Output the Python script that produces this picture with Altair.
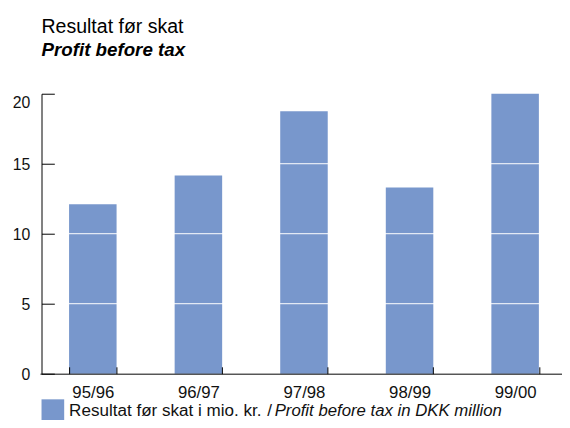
import altair as alt
import pandas as pd

categories = ["95/96", "96/97", "97/98", "98/99", "99/00"]
values = [12.1, 14.15, 18.75, 13.3, 20.0]
y_ticks = [0, 5, 10, 15, 20]
grid_values = [5, 10, 15]

BAR = "#7897cc"
FONT = "Liberation Sans"

df = pd.DataFrame({"periode": categories, "resultat": values})
grid_df = pd.DataFrame({"g": grid_values})
one = pd.DataFrame({"a": [0]})

x_enc = alt.X(
    "periode:N",
    sort=categories,
    title=None,
    scale=alt.Scale(range=[-1.5, 534], paddingInner=0.55, paddingOuter=0.275),
    axis=alt.Axis(
        labelAngle=0, labelFontSize=17, labelFont=FONT, labelColor="#111",
        tickBand="extent", tickSize=alt.ExprRef("-7"), tickColor="black",
        domainColor="black", labelPadding=18, zindex=1,
    ),
)
y_scale = alt.Scale(domain=[0, 20])

bars = alt.Chart(df).mark_bar(color=BAR).encode(
    x=x_enc,
    y=alt.Y(
        "resultat:Q", title=None, scale=y_scale,
        axis=alt.Axis(
            values=y_ticks, grid=False, labelFontSize=16, labelFont=FONT,
            labelColor="#111", tickSize=alt.ExprRef("-13"), tickColor="black",
            domainColor="black", labelPadding=25, zindex=1, labelOffset=1,
            labelBaseline=alt.ExprRef("datum.value == 20 ? 'top' : 'middle'"),
        ),
    ),
)

grid = alt.Chart(grid_df).mark_rule(color="white", strokeWidth=1).encode(
    y=alt.Y("g:Q", scale=y_scale)
)

swatch = alt.Chart(one).mark_rect(color=BAR).encode(
    x=alt.value(0), x2=alt.value(23), y=alt.value(310), y2=alt.value(333)
)
leg_text1 = alt.Chart(one).mark_text(
    text="Resultat før skat i mio. kr.", align="left", baseline="alphabetic",
    font=FONT, fontSize=17.3, color="#111"
).encode(x=alt.value(28), y=alt.value(327))
leg_slash = alt.Chart(one).mark_text(
    text="/", align="left", baseline="alphabetic",
    font=FONT, fontSize=17.3, color="#111"
).encode(x=alt.value(229), y=alt.value(327))
leg_text2 = alt.Chart(one).mark_text(
    text="Profit before tax in DKK million", align="left", baseline="alphabetic",
    font=FONT, fontSize=17, fontStyle="italic", color="#111"
).encode(x=alt.value(236.5), y=alt.value(327))

chart = alt.layer(bars, grid, swatch, leg_text1, leg_slash, leg_text2).properties(
    width=528,
    height=284,
    autosize=alt.AutoSizeParams(type="none"),
    padding={"left": 34, "top": 84, "right": 0, "bottom": 44},
    title=alt.TitleParams(
        text="Resultat før skat",
        subtitle="Profit before tax",
        anchor="start", frame="group", font=FONT, fontSize=19.8,
        fontWeight="normal", color="black",
        subtitleFont=FONT, subtitleFontSize=19, subtitleFontStyle="italic",
        subtitleFontWeight="bold", subtitleColor="black", subtitlePadding=4,
        offset=34,
    ),
).configure_view(stroke=None)

chart.save("out.html", embed_options={"renderer": "svg", "actions": False})
